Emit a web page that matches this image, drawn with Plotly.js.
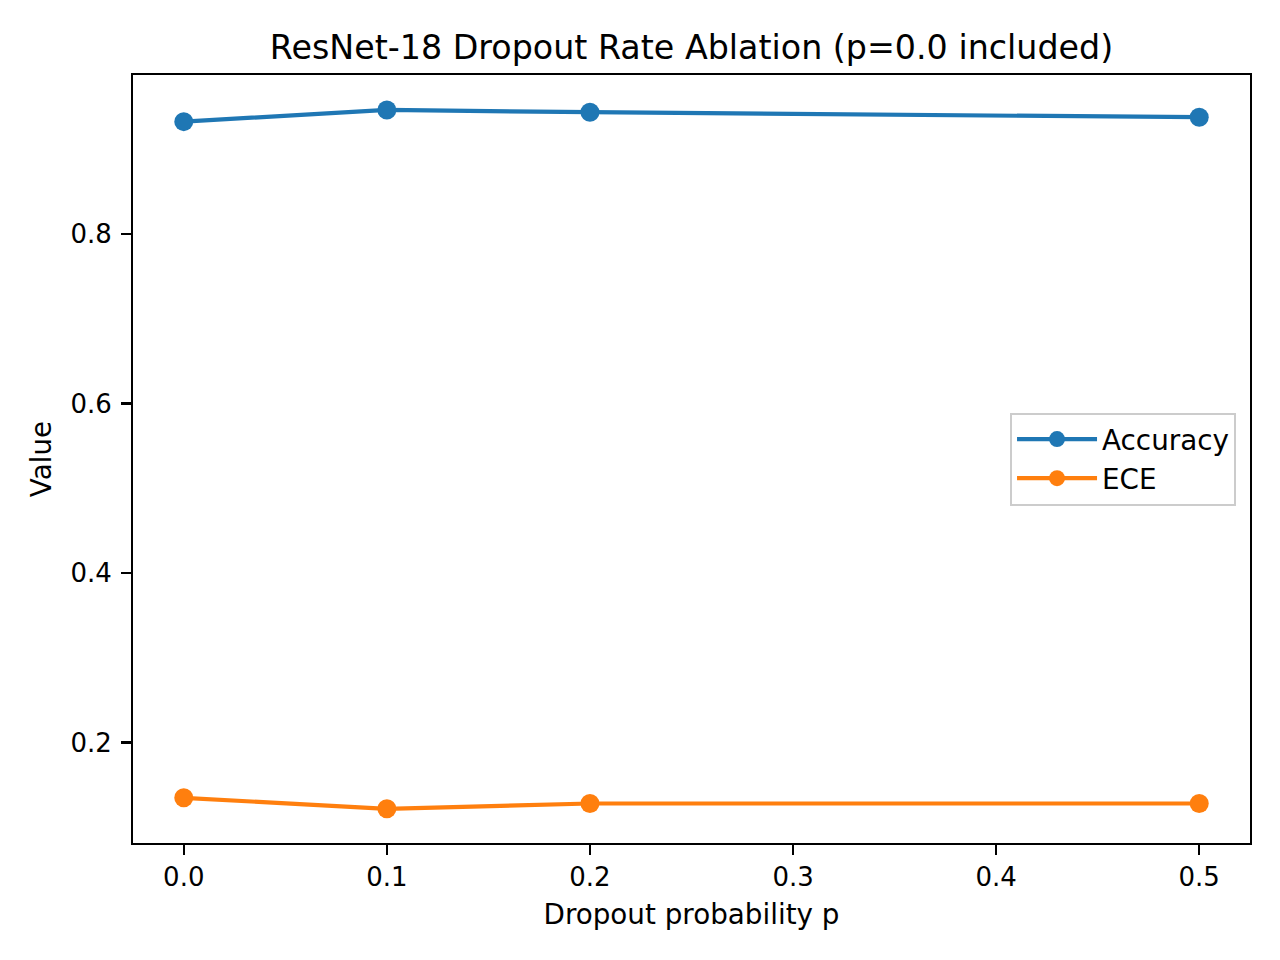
<!DOCTYPE html>
<html>
<head>
<meta charset="utf-8">
<script src="https://cdn.plot.ly/plotly-3.0.1.min.js"></script>
<style>html,body{margin:0;padding:0;background:#fff;}#chart{width:1280px;height:960px;}</style>
</head>
<body>
<div id="chart"></div>
<script>
const dropoutP = [0.0, 0.1, 0.2, 0.5];
const accuracy = [0.9324, 0.9462, 0.9435, 0.9376];
const ece = [0.1348, 0.1218, 0.1281, 0.1281];
const xTicks = [0.0, 0.1, 0.2, 0.3, 0.4, 0.5];
const yTicks = [0.2, 0.4, 0.6, 0.8];

const font = 'DejaVu Sans, sans-serif';
const traces = [
  {x: dropoutP, y: accuracy, name: 'Accuracy', mode: 'lines+markers',
   line: {color: '#1f77b4', width: 4.2}, marker: {color: '#1f77b4', size: 19}},
  {x: dropoutP, y: ece, name: 'ECE', mode: 'lines+markers',
   line: {color: '#ff7f0e', width: 4.2}, marker: {color: '#ff7f0e', size: 19}}
];
const axisCommon = {
  showline: true, linecolor: '#000', linewidth: 2.2, mirror: true,
  ticks: 'outside', ticklen: 9.7, tickwidth: 2.2, tickcolor: '#000',
  showgrid: false, zeroline: false,
  tickfont: {family: font, size: 26, color: '#000'}
};
const layout = {
  width: 1280, height: 960,
  paper_bgcolor: '#fff', plot_bgcolor: '#fff',
  margin: {l: 133, r: 30, t: 75, b: 117},
  title: {text: 'ResNet-18 Dropout Rate Ablation (p=0.0 included)',
    font: {family: font, size: 33.3, color: '#000'},
    x: 0.5, xref: 'paper', y: 1 - 47/960, yref: 'container', yanchor: 'middle'},
  xaxis: Object.assign({}, axisCommon, {
    range: [-0.025, 0.525], tickvals: xTicks, tickformat: '.1f', ticklabelstandoff: 0,
    title: {text: 'Dropout probability p', font: {family: font, size: 27.8, color: '#000'}, standoff: 14}
  }),
  yaxis: Object.assign({}, axisCommon, {
    range: [0.0815, 0.9874], tickvals: yTicks, tickformat: '.1f', ticklabelstandoff: 4,
    title: {text: 'Value', font: {family: font, size: 27.8, color: '#000'}, standoff: 11}
  }),
  showlegend: true,
  legend: {x: 0.9875, xanchor: 'right', y: 0.5, yanchor: 'middle',
    bgcolor: 'rgba(255,255,255,0.8)', bordercolor: '#cccccc', borderwidth: 2,
    font: {family: font, size: 27.8, color: '#000'}, itemwidth: 80, tracegroupgap: 0}
};
Plotly.newPlot('chart', traces, layout, {displayModeBar: false, staticPlot: true});
</script>
</body>
</html>
